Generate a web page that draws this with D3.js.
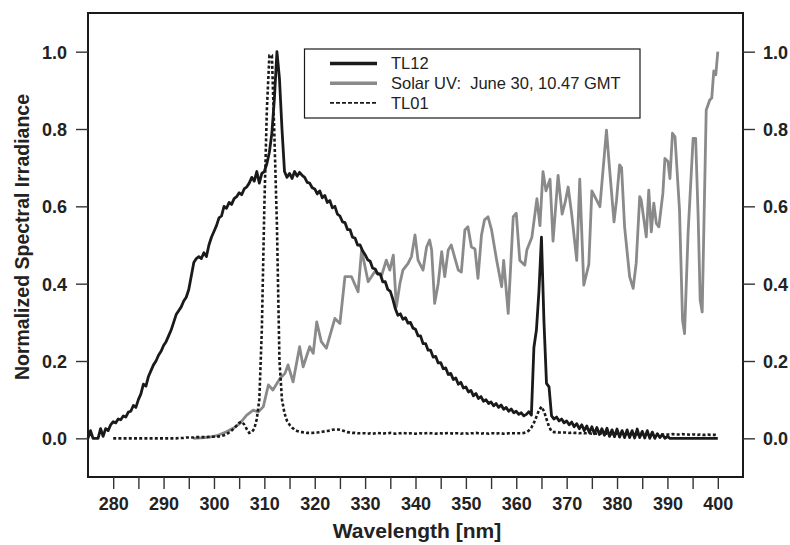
<!DOCTYPE html>
<html><head><meta charset="utf-8">
<script src="https://cdn.jsdelivr.net/npm/d3@7"></script>
<style>
html,body{margin:0;padding:0;background:#fff;}
svg{display:block;font-family:"Liberation Sans",Arial,Helvetica,sans-serif;}
</style></head><body>
<svg id="chart" width="790" height="545"></svg>
<script>
// ---------------- data ----------------
// TL12 lamp, sampled every 0.5 nm from 275 nm to 400 nm
const tl12Start = 275, tl12Step = 0.5;
const tl12Values = [
  0,0.02,0,0,0,0.025,0.005,0.025,0.02,0.035,
  0.043,0.04,0.05,0.048,0.058,0.055,0.068,0.07,0.085,0.08,0.10,0.115,0.14,0.135,0.16,0.175,0.19,0.20,0.215,0.225,
  0.24,0.25,0.265,0.28,0.30,0.32,0.33,0.34,0.355,0.365,0.385,0.42,0.455,0.465,0.47,0.465,0.48,0.47,0.50,0.52,
  0.535,0.55,0.57,0.575,0.60,0.595,0.61,0.605,0.62,0.625,0.635,0.63,0.645,0.65,0.66,0.675,0.665,0.69,0.66,0.685,
  0.69,0.71,0.74,0.79,0.88,1.0,0.93,0.80,0.69,0.675,0.685,0.672,0.69,0.678,0.688,0.68,0.675,0.662,0.66,0.648,
  0.645,0.632,0.64,0.622,0.628,0.61,0.615,0.596,0.6,0.58,0.575,0.56,0.558,0.54,0.54,0.52,0.518,0.5,0.5,0.485,
  0.475,0.462,0.458,0.44,0.438,0.425,0.425,0.405,0.405,0.385,0.38,0.36,0.335,0.318,0.322,0.308,0.312,0.298,0.3,0.285,
  0.282,0.265,0.265,0.245,0.245,0.228,0.228,0.21,0.212,0.195,0.196,0.18,0.182,0.165,0.168,0.152,0.156,0.14,0.145,0.13,
  0.133,0.12,0.124,0.11,0.116,0.103,0.108,0.096,0.1,0.09,0.094,0.084,0.09,0.08,0.086,0.075,0.08,0.07,0.076,0.066,
  0.07,0.062,0.066,0.058,0.062,0.069,0.06,0.235,0.28,0.38,0.52,0.30,0.142,0.133,0.058,0.05,0.055,0.045,0.05,0.04,
  0.045,0.035,0.042,0.03,0.038,0.025,0.035,0.02,0.032,0.015,0.03,0.012,0.028,0.01,0.025,0.008,0.026,0.005,0.022,0.004,
  0.024,0.003,0.02,0.002,0.022,0.002,0.02,0.001,0.024,0.002,0.018,0.001,0.02,0,0.016,0,0.012,0.002,0.01,0,
  0.005,0,0,0,0,0,0,0,0,0,0,0,0,0,0,0,0,0,0,0,0
];
// TL01 lamp, sampled every 0.5 nm from 280 nm to 400 nm
const tl01Start = 280, tl01Step = 0.5;
const tl01Values = [
  0,0,0,0,0,0,0,0,0,0,0,0,0,0,0,0,0,0,0,0,
  0,0,0,0,0,0,0.001,0.001,0.001,0.002,0.002,0.002,0.002,0.003,0.003,0.003,0.003,0.003,0.004,0.004,
  0.004,0.004,0.005,0.006,0.008,0.011,0.015,0.02,0.026,0.033,0.04,0.043,0.036,0.024,0.014,0.016,0.025,0.05,0.10,0.28,
  0.60,0.85,0.99,0.99,0.78,0.55,0.20,0.10,0.065,0.045,0.035,0.028,0.022,0.019,0.017,0.016,0.015,0.014,0.014,0.014,
  0.015,0.015,0.016,0.017,0.018,0.019,0.02,0.022,0.023,0.023,0.022,0.02,0.018,0.016,0.015,0.014,0.014,0.013,0.013,0.013,
  0.013,0.012,0.013,0.012,0.013,0.014,0.013,0.012,0.013,0.013,0.014,0.013,0.012,0.013,0.013,0.014,0.013,0.012,0.013,0.013,
  0.012,0.013,0.013,0.012,0.013,0.014,0.013,0.013,0.012,0.013,0.013,0.012,0.013,0.014,0.013,0.012,0.013,0.013,0.012,0.013,
  0.013,0.012,0.013,0.013,0.014,0.013,0.012,0.013,0.013,0.012,0.013,0.013,0.012,0.013,0.013,0.012,0.012,0.013,0.013,0.013,
  0.013,0.013,0.013,0.014,0.016,0.02,0.028,0.04,0.056,0.072,0.082,0.07,0.05,0.03,0.018,0.016,0.016,0.015,0.015,0.015,
  0.015,0.014,0.015,0.014,0.014,0.013,0.014,0.013,0.013,0.013,0.012,0.013,0.012,0.012,0.013,0.012,0.012,0.012,0.011,0.012,
  0.012,0.011,0.012,0.011,0.011,0.012,0.011,0.011,0.01,0.011,0.011,0.01,0.011,0.01,0.01,0.011,0.01,0.01,0.01,0.01,
  0.01,0.01,0.011,0.01,0.01,0.01,0.011,0.01,0.01,0.009,0.01,0.01,0.009,0.01,0.009,0.009,0.01,0.009,0.009,0.009,0.008
];
// Solar UV spectrum (wavelength nm, normalized value)
const solarNm = [295.9,297.5,299.2,300.8,302.5,303.8,305.1,306.5,307.8,308.8,309.8,310.8,311.7,313.1,314.1,314.7,315.7,317.0,317.7,319.0,319.7,320.4,321.3,322.3,324.0,325.0,326.0,327.3,328.6,329.3,330.6,331.9,333.3,334.2,334.9,335.6,336.2,336.9,337.5,338.5,339.2,339.9,340.5,341.5,342.2,342.8,343.2,343.8,344.5,345.2,345.8,346.5,347.1,347.8,348.5,349.1,349.8,350.4,351.1,351.8,352.4,353.1,353.7,354.4,355.1,356.1,357.1,357.5,358.4,359.4,360.0,360.7,361.7,362.1,363.1,364.1,364.7,365.3,365.9,366.7,367.3,368.3,369.1,369.7,370.3,371.0,372.0,372.6,373.4,374.4,375.0,375.8,376.6,377.9,378.5,379.4,379.9,380.5,380.9,381.5,382.5,383.2,383.8,384.5,384.8,385.8,386.3,386.8,387.3,387.8,388.3,389.1,389.5,390.1,390.5,391.0,391.5,392.4,393.0,393.4,394.1,395.1,395.6,396.1,396.5,396.9,397.7,398.4,398.8,399.2,399.6,400.0];
const solarValues = [0.0,0.001,0.003,0.008,0.017,0.026,0.038,0.06,0.073,0.068,0.082,0.138,0.125,0.155,0.168,0.19,0.146,0.237,0.185,0.237,0.22,0.301,0.25,0.233,0.31,0.297,0.418,0.418,0.379,0.487,0.405,0.431,0.422,0.461,0.435,0.474,0.34,0.40,0.435,0.452,0.47,0.526,0.461,0.435,0.495,0.513,0.487,0.349,0.40,0.483,0.418,0.487,0.50,0.467,0.435,0.43,0.539,0.547,0.495,0.49,0.414,0.526,0.565,0.573,0.539,0.461,0.392,0.46,0.323,0.573,0.582,0.46,0.448,0.487,0.52,0.62,0.55,0.69,0.64,0.67,0.51,0.68,0.58,0.61,0.65,0.58,0.46,0.67,0.396,0.45,0.64,0.62,0.599,0.797,0.70,0.56,0.616,0.707,0.70,0.547,0.418,0.388,0.453,0.625,0.616,0.521,0.642,0.534,0.608,0.556,0.547,0.634,0.724,0.716,0.672,0.789,0.78,0.59,0.306,0.271,0.53,0.776,0.776,0.573,0.358,0.327,0.849,0.875,0.88,0.95,0.94,1.0];

const xMinorTicks = [280,285,290,295,300,305,310,315,320,325,330,335,340,345,350,355,360,365,370,375,380,385,390,395,400];
const xTickLabels = [280,290,300,310,320,330,340,350,360,370,380,390,400];
const yTickLabels = [0,0.2,0.4,0.6,0.8,1.0];
const seriesNames = ["TL12","Solar UV:  June 30, 10.47 GMT","TL01"];
const xTitle = "Wavelength [nm]";
const yTitle = "Normalized Spectral Irradiance";

// ---------------- drawing ----------------
const svg = d3.select("#chart");
const L = 88, R = 743, T = 13, B = 477;
const x = d3.scaleLinear().domain([275, 405]).range([L, R]);
const y = d3.scaleLinear().domain([-0.1, 1.1]).range([B, T]);

const toPts = (start, step, vals) => vals.map((v, i) => [start + i * step, v]);
const tl12 = toPts(tl12Start, tl12Step, tl12Values);
const tl01 = toPts(tl01Start, tl01Step, tl01Values);
const solar = solarNm.map((n, i) => [n, solarValues[i]]);

const line = d3.line().x(d => x(d[0])).y(d => y(d[1]));
const BLACK = "#1a1a1a", GRAY = "#8a8a8a";

// series
svg.append("path").datum(solar).attr("d", line)
  .attr("fill","none").attr("stroke",GRAY).attr("stroke-width",2.8).attr("stroke-linejoin","round");
svg.append("path").datum(tl01).attr("d", line)
  .attr("fill","none").attr("stroke",BLACK).attr("stroke-width",2.6).attr("stroke-dasharray","3,2.2");
svg.append("path").datum(tl12).attr("d", line)
  .attr("fill","none").attr("stroke",BLACK).attr("stroke-width",2.8).attr("stroke-linejoin","round");

// box
svg.append("rect").attr("x",L).attr("y",T).attr("width",R-L).attr("height",B-T)
  .attr("fill","none").attr("stroke",BLACK).attr("stroke-width",2);

// bottom axis
const xAxis = d3.axisBottom(x).tickValues(xMinorTicks).tickSize(12)
  .tickFormat(d => xTickLabels.includes(d) ? d : "");
const gx = svg.append("g").attr("transform",`translate(0,${B})`).call(xAxis);
gx.select(".domain").remove();
gx.selectAll("line").attr("stroke","#333").attr("stroke-width",1.4);
gx.selectAll("text").attr("font-size",18).attr("font-weight","bold").attr("fill","#222")
  .attr("font-family","'Liberation Sans', Arial, sans-serif").attr("y",20).attr("dy","0.71em");

// left axis
const yAxisL = d3.axisLeft(y).tickValues(yTickLabels).tickSize(12).tickFormat(d3.format(".1f"));
const gyl = svg.append("g").attr("transform",`translate(${L},0)`).call(yAxisL);
gyl.select(".domain").remove();
gyl.selectAll("line").attr("stroke","#333").attr("stroke-width",1.4);
gyl.selectAll("text").attr("font-size",18).attr("font-weight","bold").attr("fill","#222")
  .attr("font-family","'Liberation Sans', Arial, sans-serif").attr("x",-21).attr("dy","0.36em");

// right axis
const yAxisR = d3.axisRight(y).tickValues(yTickLabels).tickSize(12).tickFormat(d3.format(".1f"));
const gyr = svg.append("g").attr("transform",`translate(${R},0)`).call(yAxisR);
gyr.select(".domain").remove();
gyr.selectAll("line").attr("stroke","#333").attr("stroke-width",1.4);
gyr.selectAll("text").attr("font-size",18).attr("font-weight","bold").attr("fill","#222")
  .attr("font-family","'Liberation Sans', Arial, sans-serif").attr("x",20).attr("dy","0.36em");

// titles
svg.append("text").attr("x",417).attr("y",538).attr("text-anchor","middle")
  .attr("font-size",21).attr("font-weight","bold").attr("fill","#222").text(xTitle);
svg.append("text").attr("transform",`translate(29,237) rotate(-90)`).attr("text-anchor","middle")
  .attr("font-size",19.5).attr("font-weight","bold").attr("fill","#222").text(yTitle);

// legend
const lg = svg.append("g");
lg.append("rect").attr("x",304.5).attr("y",49).attr("width",335.5).attr("height",69)
  .attr("fill","#fff").attr("stroke",BLACK).attr("stroke-width",1.2);
const legendStyles = [
  {stroke:BLACK, w:3.5, dash:null},
  {stroke:GRAY, w:3.5, dash:null},
  {stroke:BLACK, w:1.8, dash:"4,2"}
];
seriesNames.forEach((name, i) => {
  const yy = 63.5 + i * 19.7;
  const s = legendStyles[i];
  const ln = lg.append("line").attr("x1",330).attr("x2",377).attr("y1",yy).attr("y2",yy)
    .attr("stroke",s.stroke).attr("stroke-width",s.w);
  if (s.dash) ln.attr("stroke-dasharray",s.dash);
  lg.append("text").attr("x",391).attr("y",yy).attr("dy","0.36em")
    .attr("font-size",16.5).attr("fill","#222").style("white-space","pre").text(name);
});
</script>
</body></html>
